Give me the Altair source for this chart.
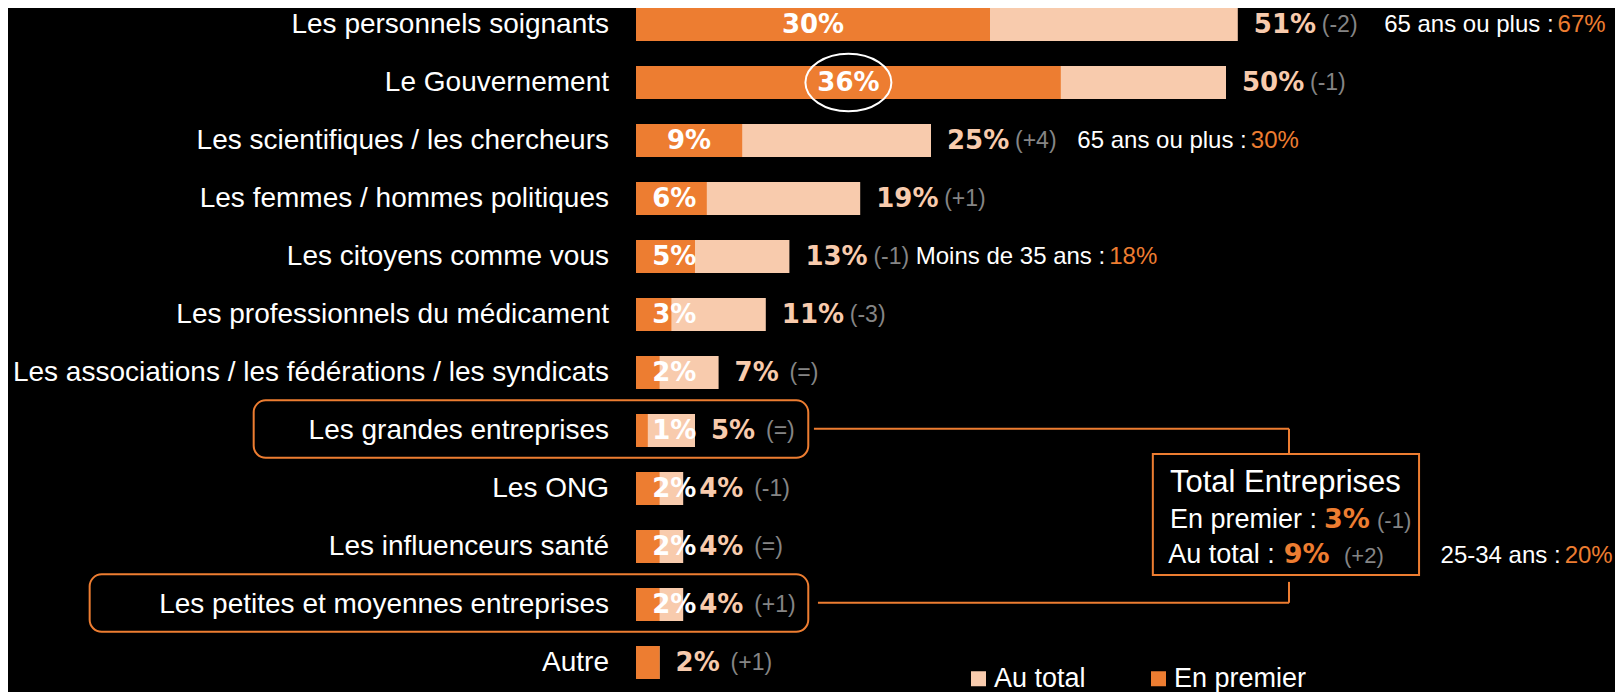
import altair as alt
import pandas as pd

# ---------------- data ----------------
categories = [
    "Les personnels soignants",
    "Le Gouvernement",
    "Les scientifiques / les chercheurs",
    "Les femmes / hommes politiques",
    "Les citoyens comme vous",
    "Les professionnels du médicament",
    "Les associations / les fédérations / les syndicats",
    "Les grandes entreprises",
    "Les ONG",
    "Les influenceurs santé",
    "Les petites et moyennes entreprises",
    "Autre",
]
au_total = [51, 50, 25, 19, 13, 11, 7, 5, 4, 4, 4, 2]
en_premier = [30, 36, 9, 6, 5, 3, 2, 1, 2, 2, 2, 2]
evolution = ["(-2)", "(-1)", "(+4)", "(+1)", "(-1)", "(-3)", "(=)", "(=)", "(-1)", "(=)", "(+1)", "(+1)"]

zoom_rows = ["Les personnels soignants", "Les scientifiques / les chercheurs", "Les citoyens comme vous"]
zoom_labels = ["65 ans ou plus :", "65 ans ou plus :", "Moins de 35 ans :"]
zoom_values = ["67%", "30%", "18%"]

circled_row = "Le Gouvernement"
boxed_rows = ["Les grandes entreprises", "Les petites et moyennes entreprises"]

ent_title = "Total Entreprises"
ent_labels = ["En premier :", "Au total :"]
ent_values = [3, 9]
ent_evolution = ["(-1)", "(+2)"]
ent_age_label = "25-34 ans :"
ent_age_value = "20%"

series = ["Au total", "En premier"]

# ---------------- styles / layout ----------------
ORANGE = "#ED7D31"
LIGHT = "#F8CBAD"
GREY = "#858585"
WHITE = "#ffffff"
SANS = "Liberation Sans"
BOLD = "DejaVu Sans"

PX = 11.8        # pixels per percentage point
STEP = 58.0      # pixels per row
HALF = 16.5 / STEP
W, H = 979, 671
Y0 = -0.2845
xscale = alt.Scale(domain=[0, W / PX], nice=False, zero=False)
yscale = alt.Scale(domain=[Y0, Y0 + H / STEP], nice=False, zero=False, reverse=True)


def X(f, **kw):
    return alt.X(f, type="quantitative", scale=xscale, axis=None, **kw)


def Y(f, **kw):
    return alt.Y(f, type="quantitative", scale=yscale, axis=None, **kw)


df = pd.DataFrame({
    "cat": categories,
    "row": list(range(len(categories))),
    "total": au_total,
    "premier": en_premier,
    "evol": evolution,
})
df["total_label"] = df["total"].astype(str) + "%"
df["premier_label"] = df["premier"].astype(str) + "%"
row_of = dict(zip(df["cat"], df["row"]))

color = alt.Color(
    "serie:N",
    scale=alt.Scale(domain=series, range=[LIGHT, ORANGE]),
    legend=alt.Legend(
        title=None, orient="none", legendX=329, legendY=657, direction="horizontal",
        symbolType="square", symbolSize=225, symbolStrokeWidth=0, labelFontSize=27,
        labelColor=WHITE, labelFont=SANS, columnPadding=59, labelOffset=2, padding=0,
    ),
)

base = alt.Chart(df)

bars_total = base.transform_calculate(
    x0="0", y0=f"datum.row - {HALF}", y1=f"datum.row + {HALF}", serie="'Au total'"
).mark_rect().encode(x=X("x0"), x2="total:Q", y=Y("y0"), y2="y1:Q", color=color)

bars_premier = base.transform_calculate(
    x0="0", y0=f"datum.row - {HALF}", y1=f"datum.row + {HALF}", serie="'En premier'"
).mark_rect().encode(x=X("x0"), x2="premier:Q", y=Y("y0"), y2="y1:Q", color=color)

cat_labels = base.transform_calculate(x0="0").mark_text(
    align="right", baseline="middle", dx=-27, font=SANS, fontSize=28, color=WHITE
).encode(x=X("x0"), y=Y("row"), text="cat:N")

inner_labels = base.transform_filter("datum.premier < datum.total").transform_calculate(
    lx="max(datum.premier / 2, 3.25)"
).mark_text(
    align="center", baseline="middle", font=BOLD, fontWeight="bold", fontSize=26, color=WHITE
).encode(x=X("lx"), y=Y("row"), text="premier_label:N")

total_labels = base.mark_text(
    align="left", baseline="middle", dx=16, font=BOLD, fontWeight="bold", fontSize=26, color=LIGHT
).encode(x=X("total"), y=Y("row"), text="total_label:N")

evol_labels = base.transform_calculate(
    ex=f"datum.total + (datum.total >= 10 ? 84 : 71) / {PX}"
).mark_text(
    align="left", baseline="middle", font=SANS, fontSize=23, color=GREY
).encode(x=X("ex"), y=Y("row"), text="evol:N")

# sub-group annotations
dz = pd.DataFrame({"cat": zoom_rows, "label": zoom_labels, "value": zoom_values})
dz["row"] = dz["cat"].map(row_of)
dz["total"] = dz["cat"].map(dict(zip(categories, au_total)))
zbase = alt.Chart(dz).transform_calculate(split="datum.total + 27.1")
zoom_lab = zbase.mark_text(
    align="right", baseline="middle", dx=-4, font=SANS, fontSize=24, color=WHITE
).encode(x=X("split"), y=Y("row"), text="label:N")
zoom_val = zbase.mark_text(
    align="left", baseline="middle", font=SANS, fontSize=24, color=ORANGE
).encode(x=X("split"), y=Y("row"), text="value:N")

# ellipse around the circled value
dc = df[df["cat"] == circled_row]
ellipse = alt.Chart(dc).transform_calculate(cx="datum.premier / 2").mark_point(
    shape="M-1,0A1,0.67,0,1,1,1,0A1,0.67,0,1,1,-1,0Z", size=7396, filled=False,
    stroke=WHITE, strokeWidth=2, opacity=1
).encode(x=X("cx"), y=Y("row"))

# rounded boxes around the "entreprises" rows
db = pd.DataFrame({"cat": boxed_rows})
db["row"] = db["cat"].map(row_of)
db["left"] = [-32.4, -46.3]
db["right"] = [14.6, 14.6]
boxes = alt.Chart(db).transform_calculate(
    y0="datum.row - 0.52", y1="datum.row + 0.47"
).mark_rect(filled=False, stroke=ORANGE, strokeWidth=2, cornerRadius=12).encode(
    x=X("left"), x2="right:Q", y=Y("y0"), y2="y1:Q"
)

# connectors and total box
r_top = row_of[boxed_rows[0]] - 0.03
r_bot = row_of[boxed_rows[1]] - 0.03
bx0, bx1 = 43.8, 66.36
by0, by1 = 7.405, 9.49
cx = 55.34
segs = pd.DataFrame({
    "x": [15.08, cx, cx, cx],
    "x2": [cx, cx, cx, 15.42],
    "y": [r_top, r_top, by1 + 0.12, r_bot],
    "y2": [r_top, by0, r_bot, r_bot],
})
connectors = alt.Chart(segs).mark_rule(color=ORANGE, strokeWidth=2).encode(
    x=X("x"), x2="x2:Q", y=Y("y"), y2="y2:Q"
)
tbox = alt.Chart(pd.DataFrame({"x": [bx0], "x2": [bx1], "y": [by0], "y2": [by1]})).mark_rect(
    filled=False, stroke=ORANGE, strokeWidth=2
).encode(x=X("x"), x2="x2:Q", y=Y("y"), y2="y2:Q")

t_white = pd.DataFrame({
    "text": [ent_title] + ent_labels,
    "x": [45.25, 45.25, 45.1],
    "y": [8.06, 8.68, 9.28],
    "fs": [31, 27, 27],
})
box_white = alt.Chart(t_white).mark_text(
    align="left", baseline="alphabetic", font=SANS, color=WHITE
).encode(x=X("x"), y=Y("y"), text="text:N", size=alt.Size("fs:Q", scale=None))

t_val = pd.DataFrame({"text": [f"{v}%" for v in ent_values], "x": [58.3, 54.9], "y": [8.68, 9.28]})
box_val = alt.Chart(t_val).mark_text(
    align="left", baseline="alphabetic", font=BOLD, fontWeight="bold", fontSize=27, color=ORANGE
).encode(x=X("x"), y=Y("y"), text="text:N")

t_ev = pd.DataFrame({"text": ent_evolution, "x": [62.8, 60.0], "y": [8.68, 9.28]})
box_ev = alt.Chart(t_ev).mark_text(
    align="left", baseline="alphabetic", font=SANS, fontSize=22, color=GREY
).encode(x=X("x"), y=Y("y"), text="text:N")

age = pd.DataFrame({"label": [ent_age_label], "value": [ent_age_value], "split": [78.7], "y": [9.28]})
age_lab = alt.Chart(age).mark_text(
    align="right", baseline="alphabetic", dx=-4, font=SANS, fontSize=24, color=WHITE
).encode(x=X("split"), y=Y("y"), text="label:N")
age_val = alt.Chart(age).mark_text(
    align="left", baseline="alphabetic", font=SANS, fontSize=24, color=ORANGE
).encode(x=X("split"), y=Y("y"), text="value:N")

chart = alt.layer(
    bars_total, bars_premier, cat_labels, inner_labels, total_labels, evol_labels,
    zoom_lab, zoom_val, ellipse, boxes, connectors, tbox, box_white, box_val, box_ev,
    age_lab, age_val,
).properties(
    width=W, height=H, background="black",
    padding={"left": 628, "top": 0, "right": 0, "bottom": 13},
    autosize=alt.AutoSizeParams(type="none"),
).configure_view(strokeWidth=0)

chart.save("out.html", embed_options={"renderer": "svg", "actions": False})
